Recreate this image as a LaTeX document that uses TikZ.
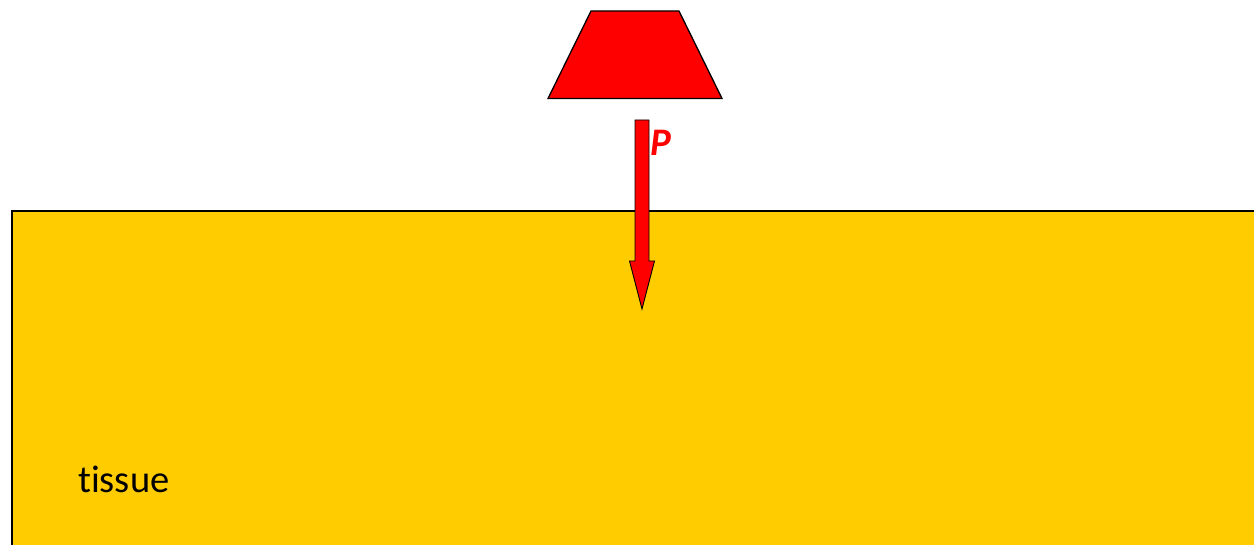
\documentclass[tikz,border=0pt]{standalone}
\usepackage{fontspec}
\setmainfont[Ligatures=NoCommon]{Carlito}
\definecolor{tissueyellow}{HTML}{FFCC00}
\definecolor{probered}{HTML}{FF0000}
\begin{document}
\begin{tikzpicture}[x=1pt,y=-1pt,
  shapeline/.style={draw=black,line width=1.3pt,line join=miter},
  arrowline/.style={draw=black,line width=0.9pt,fill=probered,line join=miter}]
\useasboundingbox (0,0) rectangle (1254,545);
\clip (0,0) rectangle (1254,545);
% tissue block
\fill[tissueyellow] (12,211) rectangle (1270,560);
\draw[line width=2pt] (12,560) -- (12,211) -- (1270,211);
\node[anchor=base west,inner sep=0pt,font=\fontsize{38.5}{44}\selectfont] (tissue) at (78,493) {tissue};
% probe
\draw[shapeline,fill=probered] (591,11) -- (679,11) -- (722,98.5) -- (548,98.5) -- cycle;
% force arrow
\draw[arrowline] (635,120) -- (649,120) -- (649,261) -- (654.5,261) -- (642,309) -- (629.5,261) -- (635,261) -- cycle;
\node[anchor=base west,text=probered,font=\fontsize{39}{44}\selectfont\bfseries\itshape,inner sep=0pt] (P) at (650,156) {P};
\end{tikzpicture}
\end{document}
